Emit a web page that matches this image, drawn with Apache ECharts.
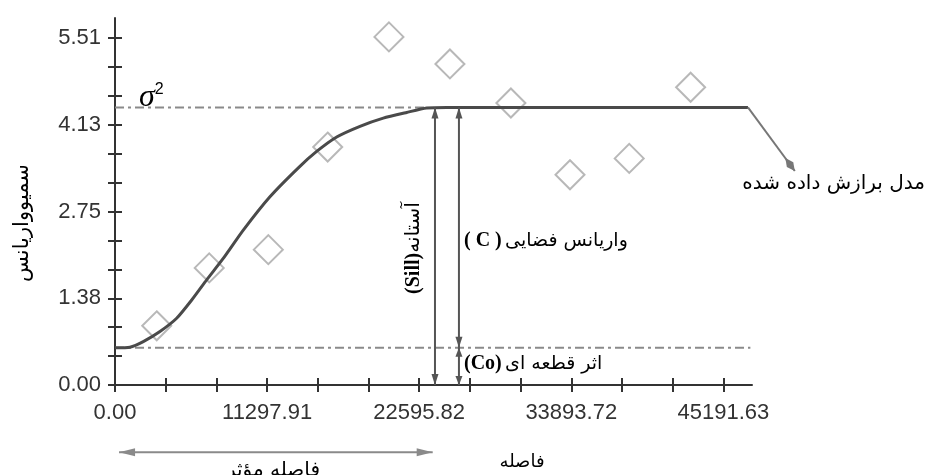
<!DOCTYPE html>
<html><head><meta charset="utf-8">
<script src="https://cdn.jsdelivr.net/npm/echarts@6/dist/echarts.min.js"></script>
<style>html,body{margin:0;padding:0;background:#fff}#c{width:926px;height:475px}</style>
</head><body><div id="c"></div>
<script>
// ---- tick labels ----
const xTickLabels = ['0.00', '11297.91', '22595.82', '33893.72', '45191.63'];
const yTickLabels = ['0.00', '1.38', '2.75', '4.13', '5.51'];
const xTickStep = 3765.97;   // minor tick spacing (3 per labelled interval)
const yTickStep = 0.45917;

// ---- experimental semivariogram (diamonds) ----
const lagX    = [3100, 7000, 11390, 15800, 20350, 24880, 29410, 33800, 38200, 42760];
const semivar = [0.94, 1.86, 2.15, 3.78, 5.53, 5.10, 4.48, 3.34, 3.60, 4.73];

// ---- fitted model curve ----
const modelX = [0, 1110, 2100, 3340, 4580, 5700, 6810, 8040, 9530, 11510, 13620, 14980, 16470, 18200, 19930, 21670, 23150, 24640, 47020];
const modelY = [0.59, 0.60, 0.69, 0.85, 1.06, 1.35, 1.67, 2.01, 2.46, 2.99, 3.45, 3.71, 3.94, 4.11, 4.24, 4.33, 4.40, 4.41, 4.41];

// ---- model parameters / annotation anchors (data units) ----
const sill = 4.41;
const nugget = 0.59;
const sillArrowX = 23770;
const cArrowX = 25550;
const sigmaLineEnd = 23000;
const nuggetLineEnd = 47200;
const effRange = [300, 23600];
const effArrowY = -1.07;
const pointerFrom = [47020, 4.41];
const pointerTo = [50500, 3.40];

const xMax = 47320, yMax = 5.83;
const xTicks = Array.from({length: 13}, (_, k) => k * xTickStep);
const yTicks = Array.from({length: 13}, (_, k) => k * yTickStep);

const AX = '#333';
const chart = echarts.init(document.getElementById('c'), null, {renderer: 'canvas'});

const tickFont = {fontSize: 22, color: '#333', fontFamily: 'Liberation Sans'};
const option = {
  animation: false,
  grid: {left: 115, top: 18, width: 637, height: 367},
  xAxis: [{
    type: 'value', min: 0, max: xMax, position: 'bottom',
    axisLine: {lineStyle: {color: AX, width: 2}},
    axisTick: {customValues: xTicks, length: 7, lineStyle: {color: AX, width: 2}},
    axisLabel: Object.assign({customValues: xTickLabels.map(Number), formatter: v => v.toFixed(2), margin: 17}, tickFont),
    splitLine: {show: false}
  }, {
    type: 'value', min: 0, max: xMax, position: 'bottom',
    axisLine: {show: false},
    axisTick: {inside: true, customValues: xTicks, length: 7, lineStyle: {color: AX, width: 2}},
    axisLabel: {show: false}, splitLine: {show: false}
  }],
  yAxis: [{
    type: 'value', min: 0, max: yMax, position: 'left',
    axisLine: {lineStyle: {color: AX, width: 2}},
    axisTick: {customValues: yTicks, length: 7, lineStyle: {color: AX, width: 2}},
    axisLabel: Object.assign({customValues: yTickLabels.map(Number), formatter: v => v.toFixed(2), margin: 14}, tickFont),
    splitLine: {show: false}
  }, {
    type: 'value', min: 0, max: yMax, position: 'left',
    axisLine: {show: false},
    axisTick: {inside: true, customValues: yTicks, length: 7, lineStyle: {color: AX, width: 2}},
    axisLabel: {show: false}, splitLine: {show: false}
  }],
  series: [
    {
      name: 'sigma', type: 'line', symbol: 'none', silent: true,
      data: [[0, sill], [sigmaLineEnd, sill]],
      lineStyle: {color: '#8a8a8a', width: 2, type: [9, 4, 3, 4]}, z: 1
    },
    {
      name: 'nugget', type: 'line', symbol: 'none', silent: true,
      data: [[0, nugget], [nuggetLineEnd, nugget]],
      lineStyle: {color: '#8a8a8a', width: 2, type: [9, 4, 3, 4]}, z: 1
    },
    {
      name: 'model', type: 'line', symbol: 'none', smooth: 0.2,
      data: modelX.map((x, i) => [x, modelY[i]]),
      lineStyle: {color: '#4a4a4a', width: 3}, z: 3
    },
    {
      name: 'experimental', type: 'scatter', symbol: 'diamond', symbolSize: 29,
      data: lagX.map((x, i) => [x, semivar[i]]),
      itemStyle: {color: 'rgba(0,0,0,0)', borderColor: '#a6a6a6', borderWidth: 2}, z: 2
    }
  ]
};
chart.setOption(option);

const px = p => chart.convertToPixel({gridIndex: 0}, p);

function tri(tip, from, L, W, color) {
  const dx = tip[0] - from[0], dy = tip[1] - from[1];
  const len = Math.hypot(dx, dy), ux = dx / len, uy = dy / len;
  const bx = tip[0] - ux * L, by = tip[1] - uy * L;
  return {type: 'polygon', silent: true, z: 10,
    shape: {points: [tip, [bx - uy * W, by + ux * W], [bx + uy * W, by - ux * W]]},
    style: {fill: color}};
}
function seg(a, b, color, w) {
  return {type: 'line', silent: true, z: 10, shape: {x1: a[0], y1: a[1], x2: b[0], y2: b[1]},
    style: {stroke: color, lineWidth: w}};
}
function dblArrow(a, b, color, w, L, W) {
  return [seg(a, b, color, w), tri(a, b, L, W, color), tri(b, a, L, W, color)];
}

const g = [];
const ARC = '#555';
g.push(...dblArrow(px([sillArrowX, sill]), px([sillArrowX, 0]), ARC, 2, 11, 3.5));
g.push(...dblArrow(px([cArrowX, sill]), px([cArrowX, nugget]), ARC, 2, 11, 3.5));
g.push(...dblArrow(px([cArrowX, nugget]), px([cArrowX, 0]), ARC, 2, 9, 3.5));
g.push(...dblArrow(px([effRange[0], effArrowY]), px([effRange[1], effArrowY]), '#8a8a8a', 2, 16, 4));
{
  const a = px(pointerFrom), b = px(pointerTo);
  g.push(seg(a, b, '#777', 2));
  const dx = b[0] - a[0], dy = b[1] - a[1], len = Math.hypot(dx, dy), ux = dx / len, uy = dy / len;
  const back = [b[0] - ux * 16, b[1] - uy * 16], mid = [b[0] - ux * 8, b[1] - uy * 8];
  g.push({type: 'polygon', silent: true, z: 10,
    shape: {points: [b, [mid[0] - uy * 4, mid[1] + ux * 4], back, [mid[0] + uy * 4, mid[1] - ux * 4]]},
    style: {fill: '#777'}});
}

const AR = 'DejaVu Sans';
const arFont = s => s + 'px "' + AR + '"';
g.push({type: 'text', x: 139, y: 82, z: 11, style: {
  text: '{s|σ}{p|2}', rich: {
    s: {font: 'italic 32px "Liberation Serif"', fill: '#000', verticalAlign: 'bottom'},
    p: {font: '16px "Liberation Sans"', fill: '#000', verticalAlign: 'top'}
  }}});
g.push({type: 'text', x: 414, y: 248, rotation: Math.PI / 2, z: 11, style: {
  text: '{b|(Sill)}{a|آستانه}', align: 'center', verticalAlign: 'middle', rich: {
    a: {font: arFont(20), fill: '#000'},
    b: {font: 'bold 20px "Liberation Serif"', fill: '#000'}
  }}});
g.push({type: 'text', x: 464, y: 241, z: 11, style: {
  text: '{b|( C )} {a|واریانس فضایی}', align: 'left', verticalAlign: 'middle', rich: {
    a: {font: arFont(19), fill: '#000'},
    b: {font: 'bold 20px "Liberation Serif"', fill: '#000'}
  }}});
g.push({type: 'text', x: 464, y: 364, z: 11, style: {
  text: '{b|(Co)} {a|اثر قطعه ای}', align: 'left', verticalAlign: 'middle', rich: {
    a: {font: arFont(19), fill: '#000'},
    b: {font: 'bold 20px "Liberation Serif"', fill: '#000'}
  }}});
g.push({type: 'text', x: 925, y: 184, z: 11, style: {
  text: 'مدل برازش داده شده', font: arFont(20), fill: '#000', align: 'right', verticalAlign: 'middle'}});
g.push({type: 'text', x: 522, y: 462, z: 11, style: {
  text: 'فاصله', font: arFont(18), fill: '#000', align: 'center', verticalAlign: 'middle'}});
g.push({type: 'text', x: 273, y: 471, z: 11, style: {
  text: 'فاصله مؤثر', font: arFont(20), fill: '#000', align: 'center', verticalAlign: 'middle'}});
g.push({type: 'text', x: 23, y: 223, rotation: Math.PI / 2, z: 11, style: {
  text: 'سمیوواریانس', font: arFont(21), fill: '#000', align: 'center', verticalAlign: 'middle'}});

chart.setOption({graphic: {elements: g}});
</script>
</body></html>
